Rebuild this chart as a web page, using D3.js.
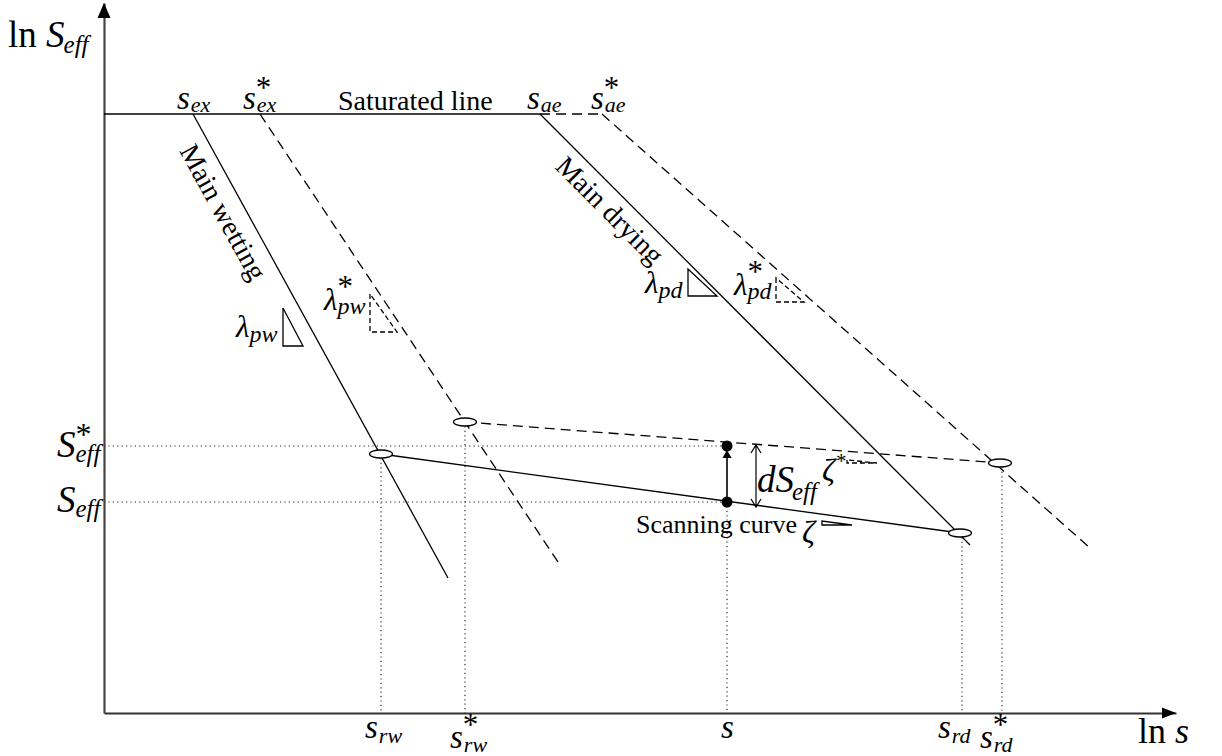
<!DOCTYPE html>
<html lang="en">
<head>
<meta charset="UTF-8">
<title>Scanning curve</title>
<script src="https://cdn.jsdelivr.net/npm/d3@7"></script>
<style>
  body { margin: 0; background: #fff; }
  text { font-family: "Liberation Serif", "Times New Roman", serif; fill: #000; }
</style>
</head>
<body>
<script>
var width = 1222, height = 756;

// ---- data (ln s, ln Seff in arbitrary units, origin at axis crossing) ----
var satLevel = 599;                       // saturated line
var sEx = 89, sExStar = 156, sAe = 436, sAeStar = 498;
var wetting     = [[89, 599], [344, 135]];
var wettingStar = [[156, 599], [454, 151]];
var drying      = [[436, 599], [866, 168]];
var dryingStar  = [[498, 599], [986, 165]];
var scanning     = [[277, 259], [856, 180]];
var scanningStar = [[361, 291], [896, 250]];
var sNow = 623, sEff = 211, sEffStar = 267;
var dSx = 652, dSrange = [206, 268];

// slope triangles
var triPw     = [[179, 405], [179, 367], [199, 367]];
var triPwStar = [[266, 419], [266, 381], [293, 381]];
var triPd     = [[584, 444], [584, 417], [613, 417]];
var triPdStar = [[672, 435], [672, 411], [700, 411]];
var triZeta     = [[718, 192], [718, 188], [748, 188]];
var triZetaStar = [[743, 253], [743, 250], [773, 250]];

// tick label texts
var topSubs = ["ex", "ex", "ae", "ae"];
var topStars = [false, true, false, true];
var bottomSubs = ["rw", "rw", "", "rd", "rd"];
var bottomStars = [false, true, false, false, true];

var x = d3.scaleLinear().domain([0, 1072]).range([104, 1176]);
var y = d3.scaleLinear().domain([0, 710]).range([713, 3]);

var svg = d3.select("body").append("svg")
  .attr("width", width).attr("height", height);

var line = d3.line().x(function(d){ return x(d[0]); }).y(function(d){ return y(d[1]); });

// ---- dotted guide lines ----
var dotted = svg.append("g").attr("stroke", "#222").attr("stroke-width", 1.1)
  .attr("stroke-dasharray", "1.2,3.2").attr("fill", "none");
[sEffStar, sEff].forEach(function(v){
  dotted.append("path").attr("d", line([[0, v], [sNow, v]]));
});
[scanning[0][0], scanningStar[0][0], sNow, scanning[1][0] + 2, scanningStar[1][0] + 2].forEach(function(v, i){
  var top = [scanning[0][1], scanningStar[0][1], sEff, scanning[1][1], scanningStar[1][1]][i];
  dotted.append("path").attr("d", line([[v, top], [v, 0]]));
});

// ---- axes ----
var axisG = svg.append("g");
axisG.append("g").attr("transform", "translate(0," + y(0) + ")")
  .call(d3.axisBottom(x).tickValues([]).tickSizeOuter(0))
  .select(".domain").attr("stroke", "#333").attr("stroke-width", 1.8);
axisG.append("g").attr("transform", "translate(" + x(0) + ",0)")
  .call(d3.axisLeft(y).tickValues([]).tickSizeOuter(0))
  .select(".domain").attr("stroke", "#444").attr("stroke-width", 2.2);
axisG.append("path")
  .attr("d", "M" + x(1072) + "," + y(0) + "l-14,-5.5l0,11z").attr("fill", "#000");
axisG.append("path")
  .attr("d", "M" + x(0) + "," + y(710) + "l-6.5,15l13,0z").attr("fill", "#000");

// ---- curves ----
var solid = svg.append("g").attr("stroke", "#000").attr("stroke-width", 1.3).attr("fill", "none");
var dashed = svg.append("g").attr("stroke", "#000").attr("stroke-width", 1.3).attr("fill", "none")
  .attr("stroke-dasharray", "10,6");

solid.append("path").attr("d", line([[0, satLevel], [sAe, satLevel]])).attr("stroke-width", 1.6);
dashed.append("path").attr("d", line([[sAe, satLevel], [sAeStar, satLevel]]));
solid.append("path").attr("d", line(wetting));
solid.append("path").attr("d", line(drying));
solid.append("path").attr("d", line(scanning));
dashed.append("path").attr("d", line(wettingStar));
dashed.append("path").attr("d", line(dryingStar));
dashed.append("path").attr("d", line(scanningStar));

// slope triangles
[triPw, triPd, triZeta].forEach(function(t){
  solid.append("path").attr("d", line(t) + "Z").attr("stroke-width", 1.3);
});
[triPwStar, triPdStar, triZetaStar].forEach(function(t){
  solid.append("path").attr("d", line(t) + "Z").attr("stroke-width", 1.3)
    .attr("stroke-dasharray", "5,3");
});

// reversal points
var ends = [scanning[0], scanningStar[0], scanning[1], scanningStar[1]];
svg.append("g").selectAll("ellipse").data(ends).enter().append("ellipse")
  .attr("cx", function(d){ return x(d[0]); })
  .attr("cy", function(d){ return y(d[1]); })
  .attr("rx", 11.5).attr("ry", 4)
  .attr("fill", "#fff").attr("stroke", "#000").attr("stroke-width", 1.3);

// current state dots + arrow
svg.append("line").attr("x1", x(sNow)).attr("x2", x(sNow))
  .attr("y1", y(sEff)).attr("y2", y(sEffStar) + 10)
  .attr("stroke", "#000").attr("stroke-width", 1.6);
svg.append("path")
  .attr("d", "M" + x(sNow) + "," + (y(sEffStar) + 4) + "l-4.5,8l9,0z").attr("fill", "#000");
svg.append("g").selectAll("circle").data([sEff, sEffStar]).enter().append("circle")
  .attr("cx", x(sNow)).attr("cy", function(d){ return y(d); }).attr("r", 5.5).attr("fill", "#000");

// dS double arrow
var ax = x(dSx), ay1 = y(dSrange[1]), ay2 = y(dSrange[0]);
svg.append("path")
  .attr("d", "M" + ax + "," + ay1 + "L" + ax + "," + ay2 +
    "M" + (ax - 5) + "," + (ay1 + 8) + "L" + ax + "," + ay1 + "L" + (ax + 5) + "," + (ay1 + 8) +
    "M" + (ax - 5) + "," + (ay2 - 8) + "L" + ax + "," + ay2 + "L" + (ax + 5) + "," + (ay2 - 8))
  .attr("stroke", "#000").attr("stroke-width", 1.2).attr("fill", "none");

// ---- labels ----
function mathLabel(o) {
  var g = svg.append("g");
  var t = g.append("text").attr("font-size", o.size);
  if (o.prefix) t.append("tspan").text(o.prefix);
  t.append("tspan").attr("font-style", o.upright ? "normal" : "italic").text(o.base);
  var w = t.node().getComputedTextLength();
  if (o.star) g.append("text").attr("x", w + (o.starDx || 0)).attr("y", o.starDy == null ? -9 : o.starDy)
    .attr("font-size", o.starSize || o.size).text("*");
  if (o.sub) g.append("text").attr("x", w + (o.subDx || 0)).attr("y", o.subDy == null ? 5 : o.subDy)
    .attr("font-size", o.subSize || 22).attr("font-style", "italic").text(o.sub);
  g.attr("transform", "translate(" + o.x + "," + o.y + ")");
  return g;
}

// axis titles
mathLabel({x: 8, y: 47, prefix: "ln ", base: "S", size: 37, sub: "eff", subSize: 25, subDy: 6, subDx: -1});
mathLabel({x: 1138, y: 743, prefix: "ln ", base: "s", size: 36});

// top labels
var topNudge = [-16, -17, -13, -11];
[sEx, sExStar, sAe, sAeStar].forEach(function(v, i){
  mathLabel({x: x(v) + topNudge[i], y: y(satLevel) - 5, base: "s", size: 33,
    star: topStars[i], starDy: -11, starSize: 31, sub: topSubs[i], subDy: 3, subDx: 1});
});

// bottom labels
var bottomX = [scanning[0][0], scanningStar[0][0], sNow, scanning[1][0], scanningStar[1][0]];
var bottomNudge = [-16, -15, -6, -22, -20];
bottomX.forEach(function(v, i){
  var st = bottomStars[i];
  mathLabel({x: x(v) + bottomNudge[i], y: y(0) + (st ? 35 : 25), base: "s", size: 33,
    star: st, starDy: -13, starSize: 31, sub: bottomSubs[i], subDy: st ? 4 : 5, subDx: 1});
});

// left labels
mathLabel({x: 57, y: y(sEffStar) + 11, base: "S", size: 37, star: true, starDy: -12, starSize: 32,
  sub: "eff", subSize: 25, subDy: 5});
mathLabel({x: 57, y: y(sEff) + 10, base: "S", size: 37, sub: "eff", subSize: 25, subDy: 5});

// slope labels
function triLabel(t, dx, dy, sub, star) {
  mathLabel({x: x(t[0][0]) + dx, y: y(t[1][1]) + dy, base: "\u03bb", size: 31,
    star: star, starDy: -13, starSize: 31, sub: sub, subSize: 24, subDy: star ? 4 : 5, subDx: 0});
}
triLabel(triPw, -47, -9, "pw", false);
triLabel(triPwStar, -46, -22, "pw", true);
triLabel(triPd, -43, -3, "pd", false);
triLabel(triPdStar, -42, -7, "pd", true);

mathLabel({x: x(triZeta[0][0]) - 20, y: y(triZeta[1][1]) + 18, base: "\u03b6", size: 32});
mathLabel({x: x(triZetaStar[0][0]) - 25, y: y(triZetaStar[1][1]) + 18, base: "\u03b6", size: 32,
  star: true, starDy: -13, starSize: 21, starDx: 1});

mathLabel({x: x(dSx) + 1, y: y(dSrange[1]) + 47, base: "dS", size: 37, sub: "eff", subSize: 25, subDy: 8, subDx: -2});

svg.append("text").attr("x", x(sNow) - 91).attr("y", y(sEff) + 31)
  .attr("font-size", 26).text("Scanning curve");
svg.append("text").attr("x", 338).attr("y", y(satLevel) - 4)
  .attr("font-size", 28).text("Saturated line");

// rotated line labels
function lineLabel(l, t, off, txt) {
  var p0 = [x(l[0][0]), y(l[0][1])], p1 = [x(l[1][0]), y(l[1][1])];
  var a = Math.atan2(p1[1] - p0[1], p1[0] - p0[0]);
  var px = p0[0] + t * (p1[0] - p0[0]) - Math.sin(a) * off;
  var py = p0[1] + t * (p1[1] - p0[1]) + Math.cos(a) * off;
  svg.append("text").attr("font-size", 28).attr("text-anchor", "middle")
    .attr("transform", "translate(" + px + "," + py + ") rotate(" + (a * 180 / Math.PI) + ")")
    .text(txt);
}
lineLabel(wetting, 0.19, 30, "Main wetting");
lineLabel(drying, 0.193, 28, "Main drying");
</script>
</body>
</html>
